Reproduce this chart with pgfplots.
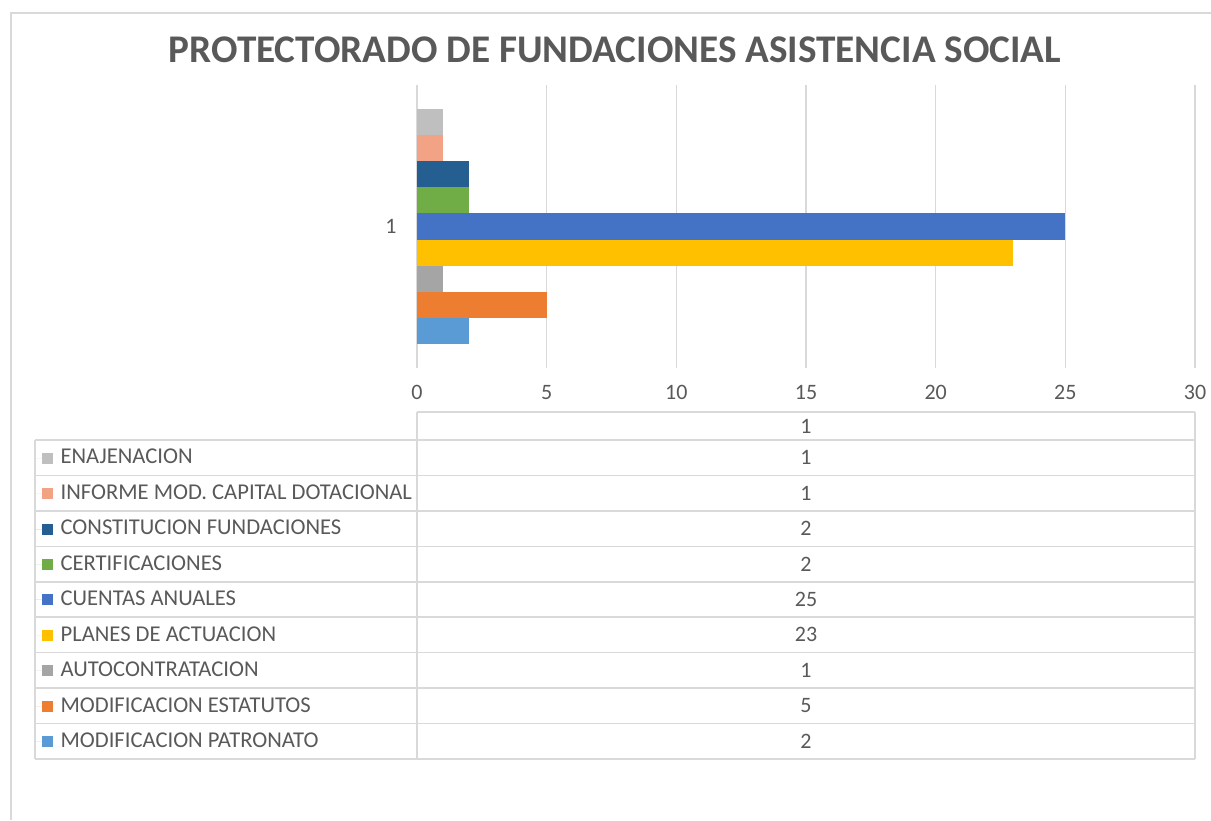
\documentclass[border=0pt]{standalone}
\usepackage{fontspec}
\setmainfont{Carlito}
\usepackage{pgfplots}
\pgfplotsset{compat=1.18}
\definecolor{cPat}{HTML}{5B9BD5}
\definecolor{cEst}{HTML}{ED7D31}
\definecolor{cAut}{HTML}{A5A5A5}
\definecolor{cPla}{HTML}{FFC000}
\definecolor{cCue}{HTML}{4472C4}
\definecolor{cCer}{HTML}{70AD47}
\definecolor{cCon}{HTML}{255E91}
\definecolor{cInf}{HTML}{F2A386}
\definecolor{cEna}{HTML}{BFBFBF}
\definecolor{txt}{HTML}{595959}
\definecolor{gridc}{HTML}{D9D9D9}
\begin{document}
\begin{tikzpicture}
\begin{scope}[x=0.5pt,y=-0.5pt]
\path[use as bounding box] (0,0) rectangle (1211,820);
\draw[gridc, line width=1pt] (11,820) -- (11,13) -- (1211,13);
\node[font=\fontsize{19.6}{22}\selectfont\bfseries, text=txt] at (615,50) {PROTECTORADO DE FUNDACIONES ASISTENCIA SOCIAL};
% table grid
\draw[gridc, line width=0.8pt] (417,412) -- (1195,412);
\foreach \k in {0,...,9} {
  \draw[gridc, line width=0.8pt] (35,440+35.44*\k) -- (1195,440+35.44*\k);
}
\draw[gridc, line width=0.8pt] (35,440) -- (35,759);
\draw[gridc, line width=0.8pt] (417,412) -- (417,759);
\draw[gridc, line width=0.8pt] (1195,412) -- (1195,759);
\node[font=\fontsize{11}{13}\selectfont, text=txt] at (806,426) {1};
\foreach \v [count=\k from 0] in {1,1,2,2,25,23,1,5,2} {
  \node[font=\fontsize{11}{13}\selectfont, text=txt] at (806,440+35.44*\k+17.72) {\v};
}
\end{scope}
\begin{axis}[
  at={(208.5pt,-184pt)}, anchor=south west,
  scale only axis, width=389pt, height=141.5pt,
  xbar=0pt, bar width=13.05pt,
  xmin=0, xmax=30, ymin=-0.5, ymax=0.5,
  xtick={0,5,...,30}, ytick={0}, yticklabels={1},
  xmajorgrids, major grid style={gridc, line width=0.8pt},
  axis line style={draw=none}, major tick length=0pt,
  tick label style={font=\fontsize{11}{13}\selectfont, text=txt},
  /pgf/number format/assume math mode=true,
  xticklabel style={inner sep=0pt, yshift=-8.5pt},
  yticklabel style={inner sep=0pt, xshift=-10pt},
  reverse legend,
  legend cell align=left,
  legend image code/.code={\path (0pt,0pt) -- (9pt,0pt); \fill[#1,draw=none] (3.3pt,-2.75pt) rectangle (8.8pt,2.75pt);},
  legend style={at={(-0.49100,-0.25442)}, anchor=north west, draw=none, fill=none,
    inner xsep=0pt, inner ysep=0pt, row sep=0pt, column sep=3.6pt,
    font=\fontsize{11.3}{13}\selectfont, text=txt,
    nodes={inner sep=0pt, minimum height=17.72pt}},
]
\addplot[fill=cPat, draw=none] coordinates {(2,0)}; \addlegendentry{MODIFICACION PATRONATO}
\addplot[fill=cEst, draw=none] coordinates {(5,0)}; \addlegendentry{MODIFICACION ESTATUTOS}
\addplot[fill=cAut, draw=none] coordinates {(1,0)}; \addlegendentry{AUTOCONTRATACION}
\addplot[fill=cPla, draw=none] coordinates {(23,0)}; \addlegendentry{PLANES DE ACTUACION}
\addplot[fill=cCue, draw=none] coordinates {(25,0)}; \addlegendentry{CUENTAS ANUALES}
\addplot[fill=cCer, draw=none] coordinates {(2,0)}; \addlegendentry{CERTIFICACIONES}
\addplot[fill=cCon, draw=none] coordinates {(2,0)}; \addlegendentry{CONSTITUCION FUNDACIONES}
\addplot[fill=cInf, draw=none] coordinates {(1,0)}; \addlegendentry{INFORME MOD. CAPITAL DOTACIONAL}
\addplot[fill=cEna, draw=none] coordinates {(1,0)}; \addlegendentry{ENAJENACION}
\end{axis}
\end{tikzpicture}
\end{document}
